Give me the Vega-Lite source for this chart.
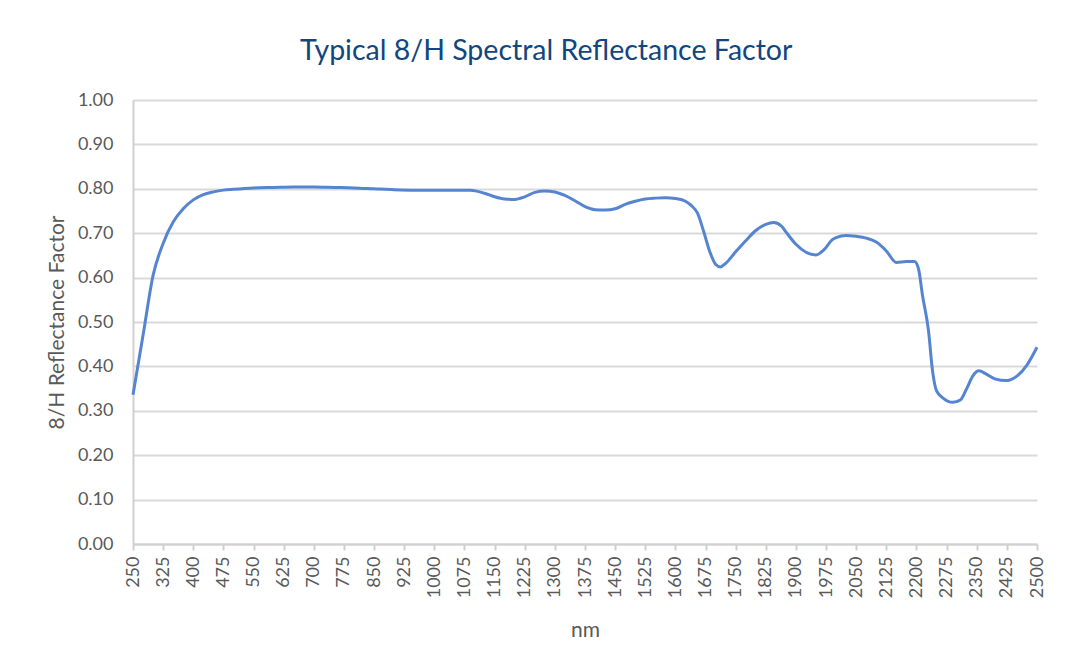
{
  "$schema": "https://vega.github.io/schema/vega-lite/v6.json",
  "width": 904,
  "height": 444,
  "padding": {"left": 46, "top": 36, "right": 34, "bottom": 5},
  "background": "white",
  "title": {
    "text": "Typical 8/H Spectral Reflectance Factor",
    "font": "Lato",
    "fontSize": 28.5,
    "fontWeight": "normal",
    "color": "#12467e",
    "anchor": "middle",
    "frame": "bounds",
    "offset": 26
  },
  "data": {
    "values": [
      {"nm": 250, "r": 0.336}, {"nm": 275, "r": 0.47}, {"nm": 300, "r": 0.605}, {"nm": 325, "r": 0.677},
      {"nm": 350, "r": 0.725}, {"nm": 375, "r": 0.755}, {"nm": 400, "r": 0.775}, {"nm": 425, "r": 0.787},
      {"nm": 450, "r": 0.793}, {"nm": 475, "r": 0.797}, {"nm": 500, "r": 0.799}, {"nm": 550, "r": 0.802},
      {"nm": 600, "r": 0.803}, {"nm": 650, "r": 0.804}, {"nm": 700, "r": 0.804}, {"nm": 750, "r": 0.803},
      {"nm": 800, "r": 0.802}, {"nm": 850, "r": 0.8}, {"nm": 900, "r": 0.798}, {"nm": 950, "r": 0.797},
      {"nm": 1000, "r": 0.797}, {"nm": 1050, "r": 0.797}, {"nm": 1090, "r": 0.797}, {"nm": 1125, "r": 0.79},
      {"nm": 1150, "r": 0.782}, {"nm": 1175, "r": 0.777}, {"nm": 1200, "r": 0.776}, {"nm": 1225, "r": 0.782},
      {"nm": 1250, "r": 0.792}, {"nm": 1275, "r": 0.795}, {"nm": 1300, "r": 0.793}, {"nm": 1325, "r": 0.785},
      {"nm": 1350, "r": 0.773}, {"nm": 1375, "r": 0.76}, {"nm": 1400, "r": 0.753}, {"nm": 1425, "r": 0.752},
      {"nm": 1450, "r": 0.755}, {"nm": 1475, "r": 0.765}, {"nm": 1500, "r": 0.772}, {"nm": 1525, "r": 0.777},
      {"nm": 1550, "r": 0.779}, {"nm": 1575, "r": 0.78}, {"nm": 1600, "r": 0.778}, {"nm": 1625, "r": 0.772},
      {"nm": 1640, "r": 0.762}, {"nm": 1655, "r": 0.745}, {"nm": 1670, "r": 0.705}, {"nm": 1685, "r": 0.66},
      {"nm": 1700, "r": 0.63}, {"nm": 1712, "r": 0.624}, {"nm": 1725, "r": 0.632}, {"nm": 1750, "r": 0.658},
      {"nm": 1775, "r": 0.683}, {"nm": 1800, "r": 0.706}, {"nm": 1825, "r": 0.72}, {"nm": 1845, "r": 0.724},
      {"nm": 1865, "r": 0.715}, {"nm": 1875, "r": 0.703}, {"nm": 1900, "r": 0.675}, {"nm": 1925, "r": 0.657},
      {"nm": 1950, "r": 0.651}, {"nm": 1970, "r": 0.663}, {"nm": 1990, "r": 0.685}, {"nm": 2000, "r": 0.69},
      {"nm": 2025, "r": 0.695}, {"nm": 2050, "r": 0.693}, {"nm": 2075, "r": 0.689}, {"nm": 2100, "r": 0.68},
      {"nm": 2125, "r": 0.66}, {"nm": 2150, "r": 0.634}, {"nm": 2175, "r": 0.636}, {"nm": 2195, "r": 0.636},
      {"nm": 2205, "r": 0.62}, {"nm": 2215, "r": 0.56}, {"nm": 2230, "r": 0.48}, {"nm": 2240, "r": 0.39},
      {"nm": 2250, "r": 0.345}, {"nm": 2267, "r": 0.328}, {"nm": 2290, "r": 0.319}, {"nm": 2310, "r": 0.325},
      {"nm": 2325, "r": 0.35}, {"nm": 2340, "r": 0.378}, {"nm": 2355, "r": 0.39}, {"nm": 2375, "r": 0.382},
      {"nm": 2395, "r": 0.372}, {"nm": 2425, "r": 0.368}, {"nm": 2450, "r": 0.378}, {"nm": 2475, "r": 0.403},
      {"nm": 2500, "r": 0.443}
    ]
  },
  "mark": {"type": "line", "interpolate": "monotone", "color": "#5585d0", "strokeWidth": 3},
  "encoding": {
    "x": {
      "field": "nm",
      "type": "quantitative",
      "scale": {"domain": [250, 2500], "nice": false, "zero": false},
      "axis": {
        "title": "nm",
        "values": [250, 325, 400, 475, 550, 625, 700, 775, 850, 925, 1000, 1075, 1150, 1225, 1300, 1375, 1450, 1525, 1600, 1675, 1750, 1825, 1900, 1975, 2050, 2125, 2200, 2275, 2350, 2425, 2500],
        "format": "d",
        "labelAngle": -90,
        "labelAlign": "right",
        "labelBaseline": "middle",
        "labelPadding": 6,
        "labelOverlap": false,
        "labelFlush": false,
        "grid": false,
        "ticks": true,
        "tickSize": 6,
        "tickColor": "#d0d0d0",
        "tickWidth": 2,
        "domainColor": "#d0d0d0",
        "domainWidth": 2,
        "titlePadding": 22
      }
    },
    "y": {
      "field": "r",
      "type": "quantitative",
      "scale": {"domain": [0, 1], "nice": false},
      "axis": {
        "title": "8/H Reflectance Factor",
        "values": [0, 0.1, 0.2, 0.3, 0.4, 0.5, 0.6, 0.7, 0.8, 0.9, 1.0],
        "format": ".2f",
        "ticks": false,
        "labelPadding": 20,
        "grid": true,
        "gridColor": "#d9d9d9",
        "gridWidth": 2,
        "domainColor": "#d0d0d0",
        "domainWidth": 2,
        "titlePadding": 10
      }
    }
  },
  "config": {
    "view": {"stroke": null},
    "axis": {
      "labelFont": "Lato",
      "labelFontSize": 18,
      "labelColor": "#595959",
      "titleFont": "Lato",
      "titleFontSize": 21,
      "titleFontWeight": "normal",
      "titleColor": "#595959"
    }
  }
}
